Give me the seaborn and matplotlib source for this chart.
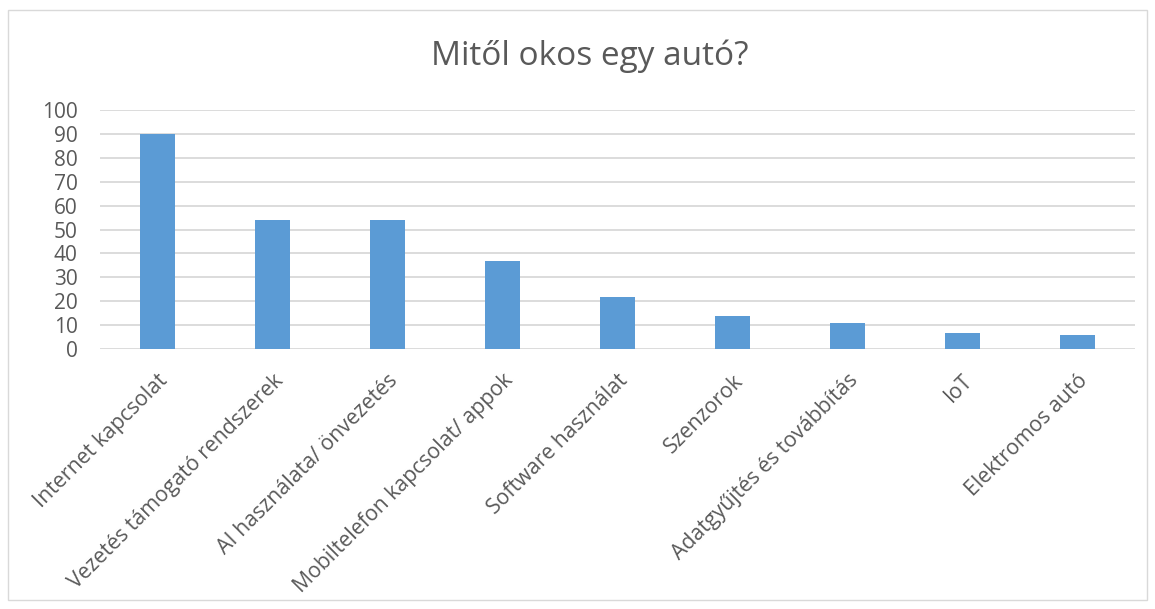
import matplotlib
matplotlib.use("Agg")
import matplotlib.pyplot as plt
import seaborn as sns
import pandas as pd
from matplotlib.patches import Rectangle

categories = ["Internet kapcsolat", "Vezetés támogató rendszerek", "AI használata/ önvezetés",
              "Mobiltelefon kapcsolat/ appok", "Software használat", "Szenzorok",
              "Adatgyűjtés és továbbítás", "IoT", "Elektromos autó"]
values = [90, 54, 54, 37, 22, 14, 11, 7, 6]
yticks = [0, 10, 20, 30, 40, 50, 60, 70, 80, 90, 100]
title = "Mitől okos egy autó?"

sns.set_theme(style="white")
plt.rcParams['font.family'] = ['Open Sans', 'DejaVu Sans']
text_color = "#595959"

df = pd.DataFrame({"cat": categories, "val": values})
fig = plt.figure(figsize=(11.55, 6.09), dpi=100)
ax = fig.add_axes([100/1155, 1-349.3/609, 1035/1155, (349.3-109.7)/609])
sns.barplot(data=df, x="cat", y="val", color="#5B9BD5", saturation=1, width=0.313, ax=ax,
            zorder=3, edgecolor="#5B9BD5", linewidth=0)
ax.set_ylim(0, 100)
ax.set_xlim(-0.5, len(categories)-0.5)
ax.set_yticks(yticks)
ax.set_yticklabels([str(t) for t in yticks], fontsize=15, color=text_color)
ax.yaxis.grid(True, color="#D9D9D9", linewidth=1.3, zorder=0)
ax.set_axisbelow(True)
for s in ax.spines.values():
    s.set_visible(False)
ax.tick_params(axis='both', length=0)
ax.tick_params(axis='y', pad=16)
ax.set_xlabel("")
ax.set_ylabel("")
ax.set_xticks(range(len(categories)))
ax.set_xticklabels(categories, rotation=45, ha='right', rotation_mode='anchor', fontsize=15.3, color=text_color)
ax.tick_params(axis='x', pad=15)
fig.text(590/1155, 1-56/609, title, ha='center', va='center', fontsize=24, color=text_color)
fig.patches.append(Rectangle((8/1155, 1-600/609), 1139/1155, 590/609, transform=fig.transFigure,
                             fill=False, edgecolor="#D9D9D9", linewidth=1))
fig.savefig("out.png", dpi=100)
